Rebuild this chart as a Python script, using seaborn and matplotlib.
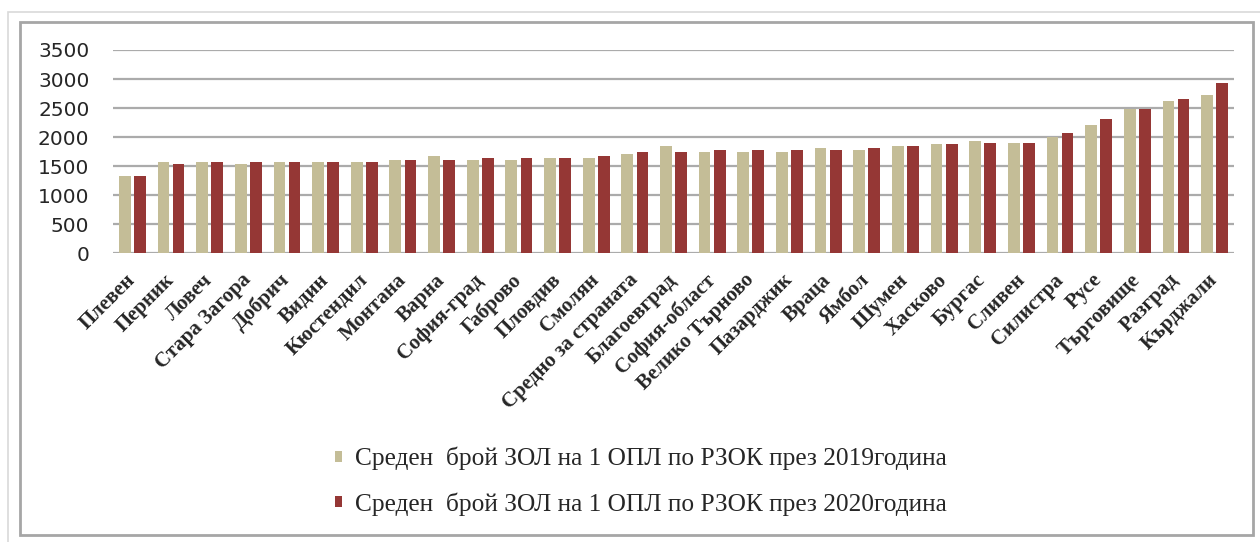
import pandas as pd
import seaborn as sns
import matplotlib.pyplot as plt
from matplotlib.patches import Rectangle
from matplotlib.transforms import ScaledTranslation

regions = ["Плевен", "Перник", "Ловеч", "Стара Загора", "Добрич", "Видин",
           "Кюстендил", "Монтана", "Варна", "София-град", "Габрово", "Пловдив",
           "Смолян", "Средно за страната", "Благоевград", "София-област",
           "Велико Търново", "Пазарджик", "Враца", "Ямбол", "Шумен", "Хасково",
           "Бургас", "Сливен", "Силистра", "Русе", "Търговище", "Разград",
           "Кърджали"]
values_2019 = [1330, 1570, 1570, 1540, 1570, 1570, 1570, 1600, 1675, 1600,
               1600, 1635, 1635, 1710, 1847, 1745, 1745, 1745, 1813, 1779,
               1847, 1881, 1927, 1904, 2012, 2213, 2487, 2630, 2722]
values_2020 = [1330, 1540, 1570, 1570, 1570, 1570, 1570, 1605, 1600, 1635,
               1635, 1635, 1675, 1745, 1745, 1779, 1779, 1779, 1779, 1813,
               1847, 1881, 1904, 1904, 2075, 2316, 2487, 2659, 2928]
label_2019 = "Среден  брой ЗОЛ на 1 ОПЛ по РЗОК през 2019година"
label_2020 = "Среден  брой ЗОЛ на 1 ОПЛ по РЗОК през 2020година"
yticks = [0, 500, 1000, 1500, 2000, 2500, 3000, 3500]

# таблица в дълъг формат за seaborn
df = pd.DataFrame({
    "region": regions * 2,
    "value": values_2019 + values_2020,
    "year": [label_2019] * len(regions) + [label_2020] * len(regions),
})

sns.set_style("white")
W, H = 1260, 542
fig = plt.figure(figsize=(W / 100, H / 100), dpi=100)
ax = fig.add_axes([113 / W, 1 - 253.5 / H, (1234 - 113) / W, (253.5 - 50) / H])

sns.barplot(data=df, x="region", y="value", hue="year",
            palette={label_2019: "#C4BD97", label_2020: "#953735"},
            saturation=1, width=0.78, gap=0.22, errorbar=None,
            linewidth=0, ax=ax)

ax.set_ylim(0, 3500)
ax.set_xlim(-0.5, len(regions) - 0.5)
ax.set_yticks(yticks)
ax.set_yticklabels([str(t) for t in yticks], fontsize=14.5, family="DejaVu Sans")
ax.set_xticks(range(len(regions)))
ax.set_xticklabels(regions, rotation=45, ha="right", va="center",
                   rotation_mode="anchor", family="Liberation Serif",
                   fontweight="bold", fontsize=15)
# леко изместване надясно, както в оригинала
shift = ScaledTranslation(8 / 100, 0, fig.dpi_scale_trans)
for lbl in ax.get_xticklabels():
    lbl.set_transform(lbl.get_transform() + shift)
ax.tick_params(axis="y", length=0, pad=17)
ax.tick_params(axis="x", length=0, pad=17)
ax.set_xlabel("")
ax.set_ylabel("")
ax.yaxis.grid(True, color="#ababab", linewidth=1.6)
ax.set_axisbelow(True)
sns.despine(ax=ax, left=True, bottom=True)

handles, labels = ax.get_legend_handles_labels()
ax.get_legend().remove()
fig.legend(handles, labels, loc="upper left",
           bbox_to_anchor=(335 / W, 1 - 447 / H), frameon=False,
           prop={"family": "Liberation Serif", "size": 18.3},
           handlelength=0.28, handleheight=0.28, handletextpad=0.5,
           labelspacing=0.85, borderpad=0, borderaxespad=0)

# рамки около диаграмата
fig.add_artist(Rectangle((8 / W, -0.02), 1.1, 1 - 12 / H + 0.02,
                         transform=fig.transFigure, fill=False,
                         edgecolor="#d9d9d9", linewidth=1.2))
fig.add_artist(Rectangle((20 / W, 1 - 535 / H), (1253 - 20) / W, (535 - 22) / H,
                         transform=fig.transFigure, fill=False,
                         edgecolor="#a6a6a6", linewidth=2))

fig.savefig("out.png", dpi=100)
